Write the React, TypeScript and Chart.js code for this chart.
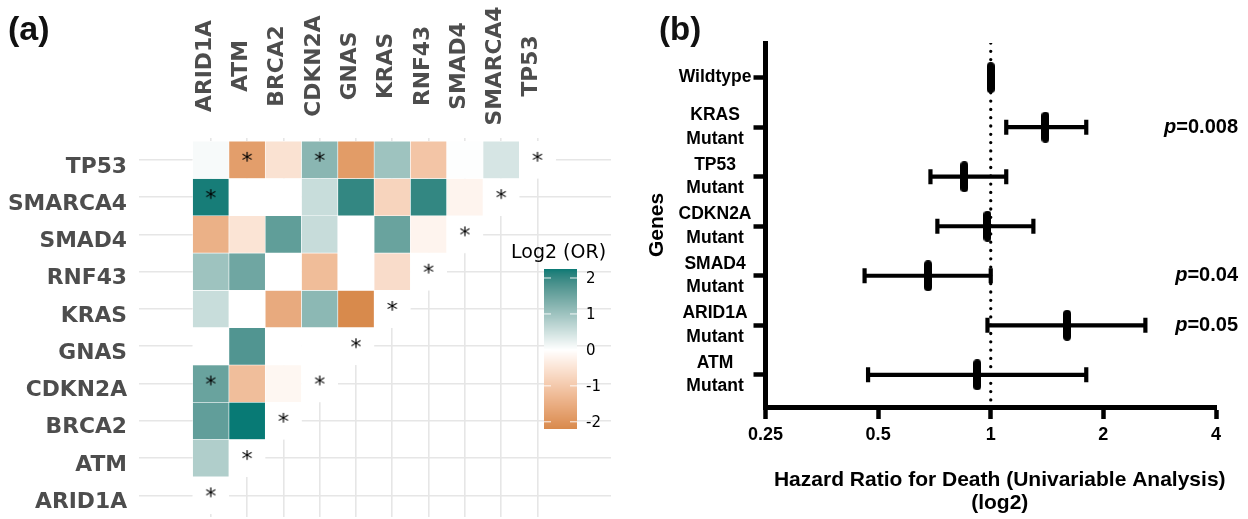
import { useEffect, useRef } from 'react';
import { Chart, registerables } from 'chart.js';
Chart.register(...registerables);

// ---------- Panel (a): co-occurrence heatmap ----------
const genes = ['ARID1A', 'ATM', 'BRCA2', 'CDKN2A', 'GNAS', 'KRAS', 'RNF43', 'SMAD4', 'SMARCA4', 'TP53'];
// log2(OR) of each row gene against the genes before it (null = blank cell)
const rowARID1A: (number | null)[] = [];
const rowATM = [0.81];
const rowBRCA2 = [1.62, 2.25];
const rowCDKN2A = [1.54, -1.2, -0.15];
const rowGNAS = [null, 1.77, null, null];
const rowKRAS = [0.56, null, -1.57, 1.18, -2.2];
const rowRNF43 = [1.0, 1.48, null, -1.22, null, -0.63];
const rowSMAD4 = [-1.45, -0.5, 1.63, 0.57, null, 1.54, -0.2];
const rowSMARCA4 = [2.2, null, null, 0.56, 2.03, -0.78, 2.03, -0.2];
const rowTP53 = [0.08, -1.8, -0.53, 1.21, -1.85, 1.0, -1.06, 0.02, 0.42];
const heatRows = [rowARID1A, rowATM, rowBRCA2, rowCDKN2A, rowGNAS, rowKRAS, rowRNF43, rowSMAD4, rowSMARCA4, rowTP53];
const sigPairs = [['TP53', 'ATM'], ['TP53', 'CDKN2A'], ['SMARCA4', 'ARID1A'], ['CDKN2A', 'ARID1A']];
const legendTicks = [2, 1, 0, -1, -2];
const legendTitle = 'Log2 (OR)';

// ---------- Panel (b): forest plot ----------
const forestLabels = [['Wildtype'], ['KRAS', 'Mutant'], ['TP53', 'Mutant'], ['CDKN2A', 'Mutant'], ['SMAD4', 'Mutant'], ['ARID1A', 'Mutant'], ['ATM', 'Mutant']];
const hazard = [1.0, 1.4, 0.85, 0.98, 0.68, 1.6, 0.92];
const ciLow = [null, 1.1, 0.69, 0.72, 0.46, 0.98, 0.47];
const ciHigh = [null, 1.8, 1.1, 1.3, 1.0, 2.59, 1.8];
const pValues = ['', '0.008', '', '', '0.04', '0.05', ''];
const xTicks = [0.25, 0.5, 1, 2, 4];
const xTitle = ['Hazard Ratio for Death (Univariable Analysis)', '(log2)'];
const yTitle = 'Genes';

// ---------- colour helpers (Lab interpolation like ggplot) ----------
const HIGH = [8, 122, 117];
const LOW = [215, 135, 72];
const WHITE = [255, 255, 255];
function toLin(c: number) { c /= 255; return c <= 0.04045 ? c / 12.92 : Math.pow((c + 0.055) / 1.055, 2.4); }
function fromLin(c: number) { const v = c <= 0.0031308 ? 12.92 * c : 1.055 * Math.pow(c, 1 / 2.4) - 0.055; return Math.round(Math.max(0, Math.min(1, v)) * 255); }
function rgbToLab(rgb: number[]) {
  const R = toLin(rgb[0]), G = toLin(rgb[1]), B = toLin(rgb[2]);
  const X = (0.4124 * R + 0.3576 * G + 0.1805 * B) / 0.95047;
  const Y = 0.2126 * R + 0.7152 * G + 0.0722 * B;
  const Z = (0.0193 * R + 0.1192 * G + 0.9505 * B) / 1.08883;
  const f = (t: number) => (t > 0.008856 ? Math.cbrt(t) : 7.787 * t + 16 / 116);
  return [116 * f(Y) - 16, 500 * (f(X) - f(Y)), 200 * (f(Y) - f(Z))];
}
function labToRgb(lab: number[]) {
  const fy = (lab[0] + 16) / 116, fx = fy + lab[1] / 500, fz = fy - lab[2] / 200;
  const inv = (t: number) => (t * t * t > 0.008856 ? t * t * t : (t - 16 / 116) / 7.787);
  const X = inv(fx) * 0.95047, Y = inv(fy), Z = inv(fz) * 1.08883;
  const R = 3.2406 * X - 1.5372 * Y - 0.4986 * Z;
  const G = -0.9689 * X + 1.8758 * Y + 0.0415 * Z;
  const B = 0.0557 * X - 0.204 * Y + 1.057 * Z;
  return [fromLin(R), fromLin(G), fromLin(B)];
}
const labW = rgbToLab(WHITE), labH = rgbToLab(HIGH), labL = rgbToLab(LOW);
const allVals = heatRows.flat().filter((v) => v != null) as number[];
const vMin = Math.min(...allVals);
const vMax = Math.max(...allVals);
const vAbs = Math.max(Math.abs(vMin), Math.abs(vMax));
function colorFor(v: number) {
  const t = Math.min(1, Math.abs(v) / vAbs);
  const end = v >= 0 ? labH : labL;
  const lab = [0, 1, 2].map((k) => labW[k] + (end[k] - labW[k]) * t);
  const c = labToRgb(lab);
  return `rgb(${c[0]},${c[1]},${c[2]})`;
}

const HEAT_FONT = '"DejaVu Sans", sans-serif';
const FOREST_FONT = '"Liberation Sans", Arial, sans-serif';

function makeStar() {
  const c = document.createElement('canvas');
  c.width = 24; c.height = 24;
  const g = c.getContext('2d')!;
  g.font = '22px "DejaVu Sans"';
  g.fillStyle = '#000';
  g.textAlign = 'center';
  g.textBaseline = 'alphabetic';
  const m = g.measureText('*');
  const asc = m.actualBoundingBoxAscent, desc = m.actualBoundingBoxDescent;
  g.fillText('*', 12, 9 + (asc - desc) / 2);
  return c;
}
function makePill() {
  const c = document.createElement('canvas');
  c.width = 8; c.height = 31;
  const g = c.getContext('2d')!;
  g.fillStyle = '#000';
  g.beginPath();
  (g as any).roundRect(0, 0, 8, 31, 4);
  g.fill();
  return c;
}

const heatExtras = {
  id: 'heatExtras',
  afterDraw(chart: any) {
    const { ctx, scales } = chart;
    const x = scales.x;
    ctx.save();
    // panel tag
    ctx.font = 'bold 34px "Liberation Sans"';
    ctx.fillStyle = '#111';
    ctx.textAlign = 'left';
    ctx.textBaseline = 'middle';
    ctx.fillText('(a)', 8, 31);
    // column labels
    ctx.font = `bold 21.8px ${HEAT_FONT}`;
    ctx.fillStyle = '#4d4d4d';
    ctx.textAlign = 'center';
    ctx.textBaseline = 'alphabetic';
    genes.forEach((g, i) => {
      const px = x.getPixelForValue(i);
      ctx.save();
      ctx.translate(px, 66);
      ctx.rotate(-Math.PI / 2);
      ctx.fillText(g, 0, 0);
      ctx.restore();
    });
    // colour legend
    const bx = 544, bw = 33, by = 269, bh = 160;
    for (let i = 0; i < bh; i++) {
      const v = vMax - ((i + 0.5) / bh) * (vMax - vMin);
      ctx.fillStyle = colorFor(v);
      ctx.fillRect(bx, by + i, bw, 1);
    }
    ctx.font = '19px "DejaVu Sans"';
    ctx.fillStyle = '#000';
    ctx.textAlign = 'left';
    ctx.textBaseline = 'middle';
    ctx.fillText(legendTitle, 511, 253);
    ctx.font = '15px "DejaVu Sans"';
    legendTicks.forEach((t) => {
      const py = by + ((vMax - t) / (vMax - vMin)) * bh;
      ctx.strokeStyle = 'rgba(255,255,255,0.9)';
      ctx.lineWidth = 1;
      ctx.beginPath();
      ctx.moveTo(bx, py); ctx.lineTo(bx + 7, py);
      ctx.moveTo(bx + bw - 7, py); ctx.lineTo(bx + bw, py);
      ctx.stroke();
      ctx.fillStyle = '#000';
      ctx.fillText(String(t), 586, py + 1);
    });
    ctx.restore();
  },
};

const forestExtras = {
  id: 'forestExtras',
  afterDraw(chart: any) {
    const { ctx, scales } = chart;
    const y = scales.y;
    const x = scales.x;
    ctx.save();
    ctx.font = 'bold 33px "Liberation Sans"';
    ctx.fillStyle = '#111';
    ctx.textAlign = 'left';
    ctx.textBaseline = 'middle';
    ctx.fillText('(b)', 19, 31);
    ctx.fillStyle = '#000';
    // x-axis title (two lines)
    ctx.font = `bold 21px ${FOREST_FONT}`;
    ctx.textAlign = 'center';
    const cx = (x.left + x.right) / 2 + 9;
    xTitle.forEach((t, k) => ctx.fillText(t, cx, 480 + k * 23));
    ctx.textAlign = 'left';
    pValues.forEach((p, i) => {
      if (!p) return;
      const py = y.getPixelForValue(i);
      ctx.font = `bold 20px ${FOREST_FONT}`;
      const rest = '=' + p;
      const wRest = ctx.measureText(rest).width;
      const right = 598;
      ctx.fillText(rest, right - wRest, py);
      ctx.font = `italic bold 20px ${FOREST_FONT}`;
      const wp = ctx.measureText('p').width;
      ctx.fillText('p', right - wRest - wp, py);
    });
    ctx.restore();
  },
};

function heatConfig(): any {
  const cells: any[] = [];
  heatRows.forEach((row, r) => {
    for (let c = 0; c <= r; c++) {
      const v = c < r ? row[c] : null;
      cells.push({ x: c, y: [r - 0.5, r + 0.5], v: v == null ? null : v });
    }
  });
  const stars: any[] = genes.map((_, i) => ({ x: i, y: i }));
  sigPairs.forEach(([rg, cg]) => stars.push({ x: genes.indexOf(cg), y: genes.indexOf(rg) }));
  const grid = { color: '#e6e6e6', lineWidth: 1.6, drawTicks: false, offset: false };
  return {
    type: 'bar',
    data: {
      datasets: [
        { type: 'scatter', data: stars, pointStyle: makeStar(), pointRadius: 10, order: 0 },
        {
          type: 'bar', data: cells, order: 1,
          backgroundColor: (c: any) => (c.raw && c.raw.v != null ? colorFor(c.raw.v) : '#ffffff'),
          borderColor: '#ffffff', borderWidth: 0.6, borderSkipped: false,
          barPercentage: 1, categoryPercentage: 1,
        },
      ],
    },
    options: {
      responsive: false, animation: false, events: [],
      layout: { autoPadding: false, padding: { left: 0, right: 29, top: 0, bottom: 2 } },
      plugins: { legend: { display: false }, tooltip: { enabled: false } },
      scales: {
        x: {
          type: 'linear', position: 'top', min: -1.978, max: 11.025, offset: false,
          afterBuildTicks: (s: any) => { s.ticks = genes.map((_, i) => ({ value: i })); },
          afterFit: (s: any) => { s.height = 137.5; s.paddingLeft = 0; s.paddingRight = 0; },
          ticks: { display: false },
          grid, border: { display: false },
        },
        y: {
          type: 'linear', min: -0.58, max: 9.6, offset: false,
          afterBuildTicks: (s: any) => { s.ticks = genes.map((_, i) => ({ value: i })); },
          afterFit: (s: any) => { s.width = 139; s.paddingTop = 0; s.paddingBottom = 0; },
          ticks: {
            autoSkip: false, padding: 12, color: '#4d4d4d', labelOffset: 7,
            font: { family: HEAT_FONT, size: 21.8, weight: 'bold' },
            callback: (v: any) => genes[v] ?? '',
          },
          grid, border: { display: false },
        },
      },
    },
    plugins: [heatExtras],
  };
}

function forestConfig(): any {
  const pill = makePill();
  const points = hazard.map((h, i) => ({ x: h, y: i }));
  const ciSets = hazard.map((_, i) => i).filter((i) => ciLow[i] != null).map((i) => ({
    type: 'line', data: [{ x: ciLow[i], y: i }, { x: ciHigh[i], y: i }],
    borderColor: '#000', borderWidth: 4.2, pointStyle: 'line', pointRotation: 90,
    pointRadius: 7.5, pointBorderWidth: 4.2, pointBorderColor: '#000', order: 1,
  }));
  const tickFont = { family: FOREST_FONT, weight: 'bold' };
  return {
    type: 'scatter',
    data: {
      datasets: [
        { type: 'scatter', data: points, pointStyle: pill, pointRadius: 10, order: 0 },
        ...ciSets,
        {
          type: 'line', data: [{ x: 1, y: -0.7 }, { x: 1, y: 6.65 }], borderColor: '#000',
          borderWidth: 3.3, borderDash: [0, 8.3], borderCapStyle: 'round', pointRadius: 0, order: 2,
        },
      ],
    },
    options: {
      responsive: false, animation: false, events: [],
      layout: { autoPadding: false, padding: { left: 0, right: 32, top: 43, bottom: 0 } },
      plugins: { legend: { display: false }, tooltip: { enabled: false } },
      scales: {
        x: {
          type: 'logarithmic', min: 0.25, max: 4,
          afterBuildTicks: (s: any) => { s.ticks = xTicks.map((v) => ({ value: v })); },
          afterFit: (s: any) => { s.height = 112; },
          ticks: { color: '#000', padding: 5, font: { ...tickFont, size: 18 }, callback: (v: any) => String(v) },
          grid: { drawOnChartArea: false, drawTicks: true, tickLength: 12, tickWidth: 4.5, tickColor: '#000' },
          border: { display: true, width: 5, color: '#000' },
        },
        y: {
          type: 'linear', reverse: true, min: -0.7, max: 6.65,
          afterBuildTicks: (s: any) => { s.ticks = forestLabels.map((_, i) => ({ value: i })); },
          afterFit: (s: any) => { s.width = 125.5; },
          ticks: {
            autoSkip: false, crossAlign: 'center', padding: 2, color: '#000',
            font: { ...tickFont, size: 17.5, lineHeight: 1.35 },
            callback: (v: any) => forestLabels[v] ?? '',
          },
          grid: { drawOnChartArea: false, drawTicks: true, tickLength: 12, tickWidth: 4.5, tickColor: '#000' },
          border: { display: true, width: 5, color: '#000' },
          title: { display: true, text: yTitle, color: '#000', font: { ...tickFont, size: 21 }, padding: { top: 5, bottom: 0 } },
        },
      },
    },
    plugins: [forestExtras],
  };
}

export default function App() {
  const refA = useRef<HTMLCanvasElement>(null);
  const refB = useRef<HTMLCanvasElement>(null);
  useEffect(() => {
    const a = new Chart(refA.current!, heatConfig());
    const b = new Chart(refB.current!, forestConfig());
    return () => { a.destroy(); b.destroy(); };
  }, []);
  return (
    <div style={{ position: 'absolute', left: 0, top: 0, width: 1248, height: 519, background: '#fff' }}>
      <canvas ref={refA} width={640} height={519} style={{ position: 'absolute', left: 0, top: 0 }} />
      <canvas ref={refB} width={608} height={519} style={{ position: 'absolute', left: 640, top: 0 }} />
    </div>
  );
}
